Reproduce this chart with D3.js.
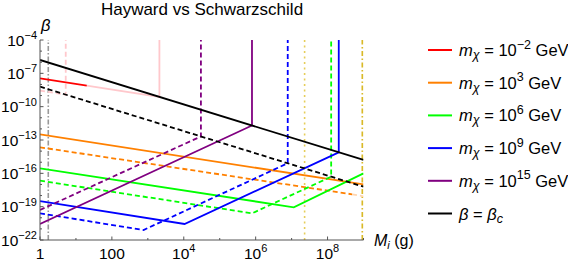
<!DOCTYPE html>
<html>
<head>
<meta charset="utf-8">
<script src="https://cdn.jsdelivr.net/npm/d3@7"></script>
<style>
  body { margin: 0; background: #fff; }
  text { font-family: 'Liberation Sans', Arial, sans-serif; }
</style>
</head>
<body>
<div id="chart"></div>
<script>
// data: points are [M_i (g), beta]
const betaC = [[1, 1.6e-6], [1e9, 1.6e-15]]
const betaCDash = [[1, 6.3e-9], [1e9, 6.3e-18]]
const red = [[1, 3.5e-8], [20, 7.9e-9]]
const redFaded = [[20, 7.9e-9], [2.1e3, 7.6e-10], [2.1e3, 1e-4]]
const redDashFaded = [[1, 2.8e-9], [5.2, 1.2e-9], [5.2, 1e-4]]
const orange = [[1, 3.2e-13], [1e9, 1e-17]]
const orangeDash = [[1, 2.2e-14], [4.8e8, 1.3e-18]]
const orangeDashFaded = [[4.8e8, 1.3e-18], [1e9, 8.5e-19]]
const green = [[1, 2.8e-16], [1.15e7, 8.7e-20], [1e9, 1e-16]]
const greenDash = [[1, 2.2e-17], [7.9e5, 2.5e-20], [1.26e8, 5e-17], [1.26e8, 1e-4]]
const blue = [[1, 3.2e-19], [1.05e4, 2.75e-21], [2.05e8, 7.8e-15], [2.05e8, 1e-4]]
const blueDash = [[1, 2.5e-20], [760, 7.9e-22], [7.8e6, 8.1e-16], [7.8e6, 1e-4]]
const purple = [[1, 2.75e-21], [7.9e5, 2e-12], [7.9e5, 1e-4]]
const purpleDash = [[1, 5e-20], [3e4, 2.1e-13], [3e4, 1e-4]]
const grayMass = 1.7
const yellowDotMass = 2.3e7
const yellowDashDotMass = 9.3e8

const xTickLabels = [[1, '1', ''], [100, '100', ''], [1e4, '10', '4'], [1e6, '10', '6'], [1e8, '10', '8']]
const yTickLabels = [[1e-4, '−4'], [1e-7, '−7'], [1e-10, '−10'], [1e-13, '−13'], [1e-16, '−16'], [1e-19, '−19'], [1e-22, '−22']]
const legendExp = ['−2', '3', '6', '9', '15']
const legendColors = ['#ff0000', '#ff8000', '#00ff00', '#0000ff', '#800080']

const width = 568
const height = 262
const padding = {top: 40, right: 205, bottom: 22, left: 40}
const FONT_SIZE = 15.5
const SUP_SIZE = 11
const LEG_SIZE = 16.5
const LEG_SUB = 12.5

const xScale = d3.scaleLog().domain([1, 1e9]).range([padding.left, 363.5])
const yScale = d3.scaleLog().domain([1e-22, 1e-4]).range([height - padding.bottom, padding.top])

const svg = d3.select('#chart').append('svg').attr('width', width).attr('height', height)

svg.append('defs').append('clipPath').attr('id', 'plot')
  .append('rect').attr('x', padding.left).attr('y', padding.top)
  .attr('width', 363.5 - padding.left).attr('height', height - padding.bottom - padding.top)

const line = d3.line().x(d => xScale(d[0])).y(d => yScale(d[1]))
const plot = svg.append('g').attr('clip-path', 'url(#plot)')

// vertical reference lines
const refs = [
  {m: grayMass, color: '#999', dash: '5,2,1.5,2', w: 1.6},
  {m: yellowDotMass, color: '#e6cd5a', dash: '2,3.5', w: 1.6},
  {m: yellowDashDotMass, color: '#d9b928', dash: '5,2.5,1.5,2.5', w: 1.8}
]
plot.selectAll('line.ref').data(refs).enter().append('line')
  .attr('x1', d => xScale(d.m)).attr('x2', d => xScale(d.m))
  .attr('y1', yScale(1e-22)).attr('y2', yScale(1e-4))
  .attr('stroke', d => d.color).attr('stroke-width', d => d.w).attr('stroke-dasharray', d => d.dash)

const series = [
  {pts: redDashFaded, color: '#ffc8cc', dash: '5,3'},
  {pts: redFaded, color: '#ffc8cc', dash: null},
  {pts: red, color: '#ff0000', dash: null},
  {pts: orangeDash, color: '#ff8000', dash: '5,3'},
  {pts: orangeDashFaded, color: '#ffd6b0', dash: '5,3'},
  {pts: orange, color: '#ff8000', dash: null},
  {pts: greenDash, color: '#00ff00', dash: '5,3'},
  {pts: green, color: '#00ff00', dash: null},
  {pts: blueDash, color: '#0000ff', dash: '5,3'},
  {pts: blue, color: '#0000ff', dash: null},
  {pts: purpleDash, color: '#800080', dash: '5,3'},
  {pts: purple, color: '#800080', dash: null},
  {pts: betaCDash, color: '#000', dash: '5,3'},
  {pts: betaC, color: '#000', dash: null}
]
plot.selectAll('path.series').data(series).enter().append('path')
  .attr('d', d => line(d.pts)).attr('fill', 'none')
  .attr('stroke', d => d.color).attr('stroke-width', 1.8)
  .attr('stroke-dasharray', d => d.dash)

// axes
const axisColor = '#555'
svg.append('line').attr('x1', padding.left).attr('x2', 363.5)
  .attr('y1', yScale(1e-22)).attr('y2', yScale(1e-22)).attr('stroke', axisColor)
svg.append('line').attr('x1', padding.left).attr('x2', padding.left)
  .attr('y1', yScale(1e-22)).attr('y2', yScale(1e-4)).attr('stroke', axisColor)

const xTicks = xScale.ticks().filter(d => Math.abs(Math.log10(d) - Math.round(Math.log10(d))) < 1e-6)
svg.selectAll('line.xt').data(xTicks).enter().append('line')
  .attr('x1', d => xScale(d)).attr('x2', d => xScale(d))
  .attr('y1', yScale(1e-22)).attr('y2', d => yScale(1e-22) - (Math.round(Math.log10(d)) % 2 === 0 ? 3.5 : 2))
  .attr('stroke', axisColor)

const yTicks = d3.range(-22, -3).map(e => Math.pow(10, e))
svg.selectAll('line.yt').data(yTicks).enter().append('line')
  .attr('x1', padding.left).attr('x2', d => padding.left + ((Math.round(Math.log10(d)) + 22) % 3 === 0 ? 3.5 : 2))
  .attr('y1', d => yScale(d)).attr('y2', d => yScale(d))
  .attr('stroke', axisColor)

svg.selectAll('text.xl').data(xTickLabels).enter().append('text')
  .attr('x', d => xScale(d[0])).attr('y', 258.5).attr('text-anchor', 'middle')
  .attr('font-size', FONT_SIZE)
  .call(sel => {
    sel.append('tspan').text(d => d[1])
    sel.append('tspan').attr('dy', -6.5).attr('font-size', SUP_SIZE).text(d => d[2])
  })

svg.selectAll('text.yl').data(yTickLabels).enter().append('text')
  .attr('x', 37).attr('y', d => yScale(d[0]) + 5.5).attr('text-anchor', 'end')
  .attr('font-size', FONT_SIZE)
  .call(sel => {
    sel.append('tspan').text('10')
    sel.append('tspan').attr('dy', -6.5).attr('font-size', SUP_SIZE).text(d => d[1])
  })

// title and axis labels
svg.append('text').attr('x', 202).attr('y', 14.5).attr('text-anchor', 'middle')
  .attr('font-size', 17).text('Hayward vs Schwarzschild')
svg.append('text').attr('x', 41).attr('y', 31).attr('font-size', 16.5)
  .attr('font-style', 'italic').text('β')
svg.append('text').attr('x', 374).attr('y', 246).attr('font-size', 16)
  .call(t => {
    t.append('tspan').attr('font-style', 'italic').text('M')
    t.append('tspan').attr('font-style', 'italic').attr('font-size', SUP_SIZE).attr('dy', 3).text('i')
    t.append('tspan').attr('dy', -3).text(' (g)')
  })

// legend
const legendData = legendExp.map((e, i) => ({exp: e, color: legendColors[i]}))
const ROW = 32.7
const legend = svg.append('g').attr('transform', 'translate(428, 50)')
legend.selectAll('g.item').data(legendData).enter().append('g')
  .attr('transform', (d, i) => `translate(0, ${ROW * i})`)
  .call(sel => {
    sel.append('line').attr('x1', 0).attr('x2', 24).attr('stroke', d => d.color).attr('stroke-width', 2)
    const t = sel.append('text').attr('x', 31).attr('y', 6).attr('font-size', LEG_SIZE)
    t.append('tspan').attr('font-style', 'italic').text('m')
    t.append('tspan').attr('font-style', 'italic').attr('font-size', LEG_SUB).attr('dy', 3).text('χ')
    t.append('tspan').attr('dy', -3).text(' = 10')
    t.append('tspan').attr('dy', -7.5).attr('font-size', LEG_SUB).text(d => d.exp)
    t.append('tspan').attr('dy', 7.5).text(' GeV')
  })
const last = legend.append('g').attr('transform', `translate(0, ${ROW * 5})`)
last.append('line').attr('x1', 0).attr('x2', 24).attr('stroke', '#000').attr('stroke-width', 2)
last.append('text').attr('x', 31).attr('y', 6).attr('font-size', LEG_SIZE)
  .call(t => {
    t.append('tspan').attr('font-style', 'italic').text('β')
    t.append('tspan').text(' = ')
    t.append('tspan').attr('font-style', 'italic').text('β')
    t.append('tspan').attr('font-style', 'italic').attr('font-size', LEG_SUB).attr('dy', 3).text('c')
  })
</script>
</body>
</html>
